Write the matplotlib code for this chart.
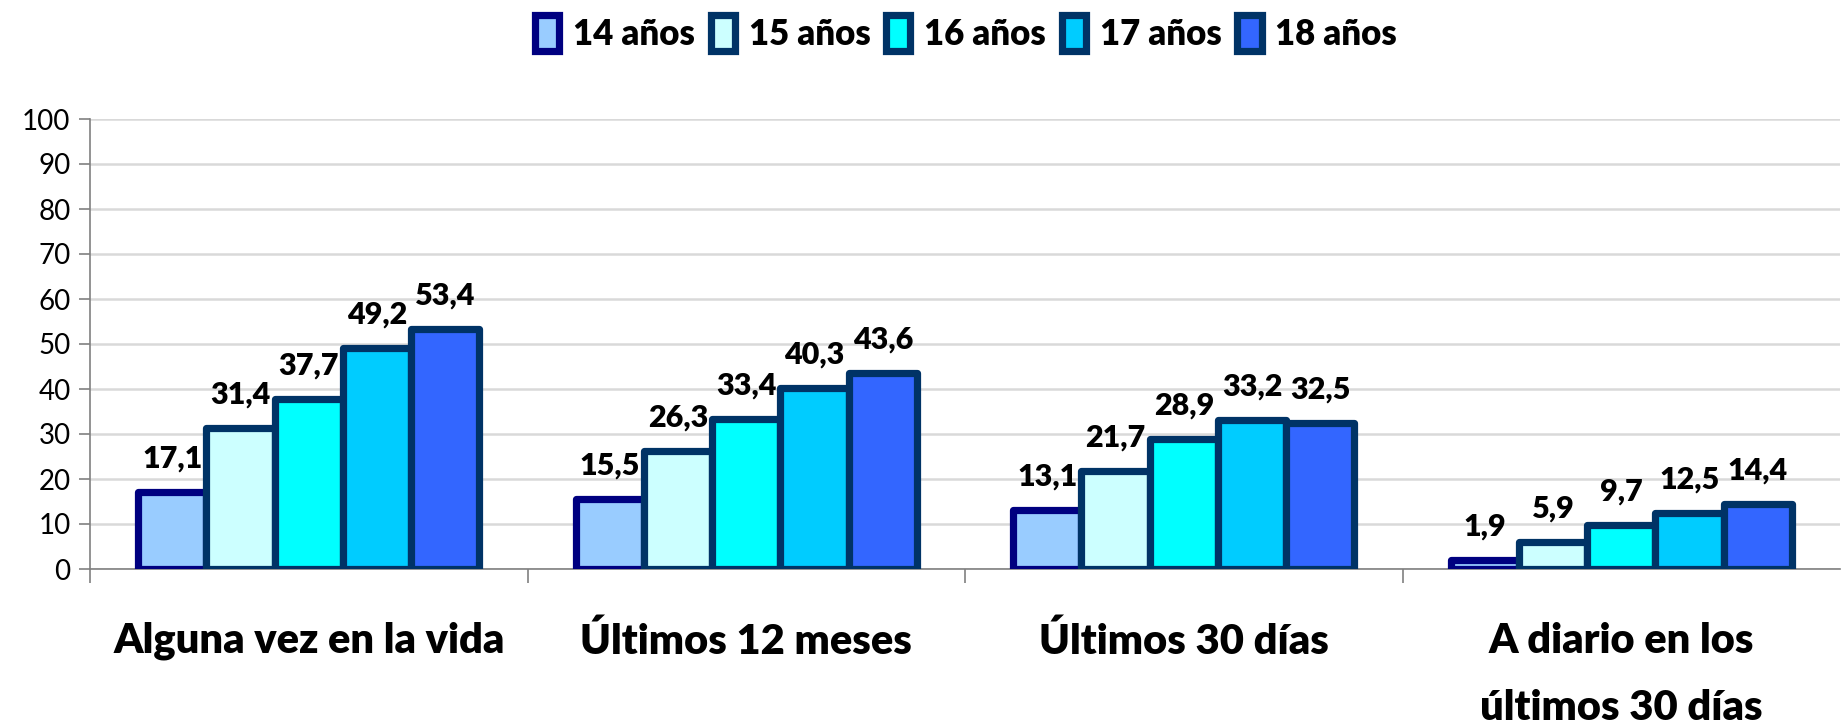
import numpy as np
import matplotlib
matplotlib.use('Agg')
import matplotlib.pyplot as plt

plt.rcParams['font.family'] = ['Lato', 'DejaVu Sans']

categories = ['Alguna vez en la vida', 'Últimos 12 meses', 'Últimos 30 días',
              'A diario en los\núltimos 30 días']
series_names = ['14 años', '15 años', '16 años', '17 años', '18 años']
values = {
    '14 años': [17.1, 15.5, 13.1, 1.9],
    '15 años': [31.4, 26.3, 21.7, 5.9],
    '16 años': [37.7, 33.4, 28.9, 9.7],
    '17 años': [49.2, 40.3, 33.2, 12.5],
    '18 años': [53.4, 43.6, 32.5, 14.4],
}
fills = ['#99CCFF', '#CCFFFF', '#00FFFF', '#00CCFF', '#3366FF']
edges = ['#000080', '#003366', '#003366', '#003366', '#003366']

fig = plt.figure(figsize=(18.42, 7.24), dpi=100)
ax = fig.add_axes([90 / 1842, 1 - 569 / 724, 1750 / 1842, 450 / 724])

x = np.arange(len(categories))
width = 0.78 / 5
for i, name in enumerate(series_names):
    pos = x - 0.39 + width * (i + 0.5)
    bars = ax.bar(pos, values[name], width, color=fills[i], edgecolor=edges[i],
                  linewidth=5.2, label=name, zorder=3)
    for b in bars:
        b.set_joinstyle('round')
    for b, v in zip(bars, values[name]):
        ax.annotate(f'{v:.1f}'.replace('.', ','), (b.get_x() + b.get_width() / 2, v),
                    xytext=(0, 14), textcoords='offset points', ha='center', va='bottom',
                    fontsize=22, fontweight='heavy', zorder=4)

ax.set_xlim(-0.5, len(categories) - 0.5)
ax.set_ylim(0, 100)
ax.set_yticks(range(0, 101, 10))
ax.yaxis.grid(True, color='#D9D9D9', linewidth=1.8, zorder=0)
ax.set_axisbelow(True)
ax.tick_params(axis='y', labelsize=20, length=8, color='#808080', width=1.2, pad=6)

ax.set_xticks(np.arange(len(categories)) - 0.5)
ax.set_xticklabels([])
ax.tick_params(axis='x', length=10, color='#808080', width=1.2)
ax.set_xticks(x, minor=True)
ax.set_xticklabels(categories, minor=True, fontsize=30, fontweight='heavy', linespacing=1.95)
ax.tick_params(axis='x', which='minor', length=0, pad=38)

for s in ['top', 'right']:
    ax.spines[s].set_visible(False)
ax.spines['left'].set_color('#808080')
ax.spines['bottom'].set_color('#808080')
ax.spines['left'].set_linewidth(1.2)
ax.spines['bottom'].set_linewidth(1.2)

leg = ax.legend(loc='center', bbox_to_anchor=(966 / 1842, 1 - 33 / 724),
                bbox_transform=fig.transFigure,
                ncol=5, frameon=False, handlelength=0.7, handleheight=1.2,
                handletextpad=0.4, columnspacing=0.45,
                prop={'weight': 'heavy', 'size': 25})

fig.savefig('out.png', dpi=100)
